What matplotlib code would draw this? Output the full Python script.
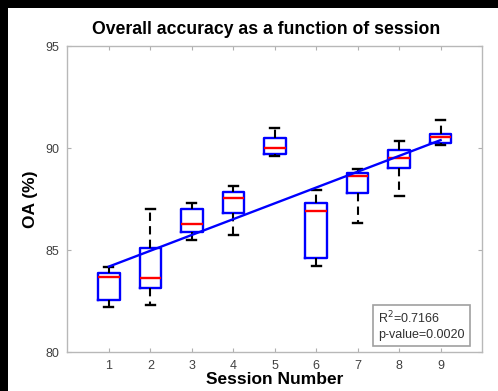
import numpy as np
import matplotlib
matplotlib.use("Agg")
import matplotlib.pyplot as plt
from matplotlib.patches import Rectangle

plt.rcParams['font.family'] = ['Liberation Sans', 'DejaVu Sans']

# box statistics, one entry per session
sessions = [1, 2, 3, 4, 5, 6, 7, 8, 9]
whis_lo = [82.23, 82.30, 85.50, 85.73, 89.63, 84.24, 86.31, 87.64, 90.15]
q1 = [82.57, 83.16, 85.89, 86.83, 89.69, 84.60, 87.80, 89.01, 90.26]
med = [83.70, 83.64, 86.28, 87.56, 89.99, 86.91, 88.61, 89.50, 90.52]
q3 = [83.88, 85.08, 87.02, 87.85, 90.47, 87.31, 88.80, 89.90, 90.71]
whis_hi = [84.19, 86.99, 87.31, 88.12, 90.96, 87.96, 88.97, 90.34, 91.39]

# regression line (value at first and last session)
fit_x = [1, 9]
fit_y = [84.19, 90.39]
r2_text = "R$^2$=0.7166\np-value=0.0020"

fig = plt.figure(figsize=(4.98, 3.91), dpi=100)
fig.patch.set_facecolor('black')
fig.patches.append(Rectangle((8 / 498, 0), 1, 1 - 8 / 391, transform=fig.transFigure,
                             facecolor='white', edgecolor='none', zorder=-1))

ax = fig.add_axes([0.1355, 0.0997, 0.8325, 0.7825])

stats = []
for i in range(len(sessions)):
    stats.append(dict(whislo=whis_lo[i], q1=q1[i], med=med[i], q3=q3[i],
                      whishi=whis_hi[i], fliers=[]))

ax.bxp(stats, positions=sessions, widths=0.52, capwidths=0.22, showfliers=False,
       boxprops=dict(color='blue', linewidth=1.7),
       medianprops=dict(color='red', linewidth=1.7),
       whiskerprops=dict(color='black', linewidth=1.5, linestyle=(0, (4, 2.5))),
       capprops=dict(color='black', linewidth=1.7))

ax.plot(fit_x, fit_y, color='blue', linewidth=1.7, zorder=3)

ax.set_xlim(0, 10)
ax.set_ylim(80, 95)
ax.set_xticks(sessions)
ax.set_xticklabels([str(s) for s in sessions])
ax.set_yticks([80, 85, 90, 95])
ax.tick_params(direction='in', length=3, color='#b0b0b0', labelcolor='#404040',
               labelsize=9, top=True, right=True, pad=6)
for sp in ax.spines.values():
    sp.set_color('#b8b8b8')
    sp.set_linewidth(1.0)

ax.set_title("Overall accuracy as a function of session", fontsize=12.7,
             fontweight='bold', pad=9, x=0.48)
ax.set_xlabel("Session Number", fontsize=12.5, fontweight='bold', labelpad=0)
ax.set_ylabel("OA (%)", fontsize=12.5, fontweight='bold', labelpad=5)

ax.text(0.75, 0.035, r2_text, transform=ax.transAxes, fontsize=9, color='#303030',
        ha='left', va='bottom', linespacing=1.3,
        bbox=dict(boxstyle='square,pad=0.4', facecolor='white', edgecolor='#a0a0a0',
                  linewidth=1.2))

fig.savefig('out.png', dpi=100, facecolor=fig.get_facecolor())
